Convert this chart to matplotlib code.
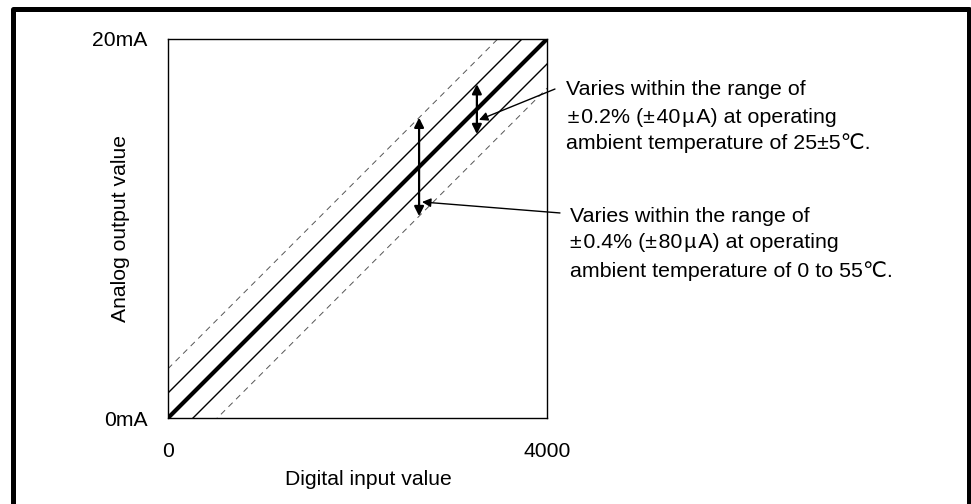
import numpy as np
import matplotlib.pyplot as plt
from matplotlib.lines import Line2D

plt.rcParams['font.family'] = ['Liberation Sans', 'DejaVu Sans']

# data
digital = [0, 4000]
analog = [0, 20]
solid_off = 1.32      # mA, +-0.2% band (drawn exaggerated)
dash_off = 2.6        # mA, +-0.4% band
arrow_x = [3260, 2650]
arrow_off = [solid_off, dash_off]
note_tip = [(3282, 15.73), (2681, 11.4)]
note_start = [(4084, 17.36), (4137, 10.82)]
hs = "\u200a"
notes = [
    ["Varies within the range of",
     hs + "\u00b1" + hs + "0.2% (\u00b1" + hs + "40" + hs + "\u00b5" + hs + "A) at operating",
     "ambient temperature of 25\u00b15\u2103."],
    ["Varies within the range of",
     "\u00b1" + hs + "0.4% (\u00b1" + hs + "80" + hs + "\u00b5" + hs + "A) at operating",
     "ambient temperature of 0 to 55\u2103."],
]
note_x = [4200, 4245]
note_y = [[17.36, 15.88, 14.51], [10.61, 9.24, 7.76]]

fig = plt.figure(figsize=(9.71, 5.04), dpi=100)
ax = fig.add_axes([168/971, 1-418/504, 379/971, 379/504])

x = np.array(digital, dtype=float)
slope = analog[1] / digital[1]
y = x * slope

ax.plot(x, y, color='black', lw=3.0, solid_capstyle='butt')
for s in (-1, 1):
    ax.plot(x, y + s*solid_off, color='black', lw=1.0)
    ax.plot(x, y + s*dash_off, color='#555555', lw=0.7, ls=(0, (6, 5)))

for xa, off in zip(arrow_x, arrow_off):
    yc = xa * slope
    ax.annotate('', xy=(xa, yc + off), xytext=(xa, yc - off),
                arrowprops=dict(arrowstyle='<|-|>', color='black', lw=1.6,
                                mutation_scale=14, shrinkA=0, shrinkB=0))

for tip, start in zip(note_tip, note_start):
    ax.annotate('', xy=tip, xytext=start, annotation_clip=False,
                arrowprops=dict(arrowstyle='-|>', color='black', lw=1.0,
                                mutation_scale=13, shrinkA=0, shrinkB=0))

for xs, ys, lines in zip(note_x, note_y, notes):
    for yy, txt in zip(ys, lines):
        ax.text(xs, yy, txt, fontsize=15.4, ha='left', va='center', clip_on=False)

ax.set_xlim(digital)
ax.set_ylim(analog)
ax.set_xticks(digital)
ax.set_xticklabels(['0', '4000'])
ax.set_yticks(analog)
ax.set_yticklabels(['0mA', '20mA'])
ax.tick_params(length=0, labelsize=15.2)
ax.tick_params(axis='y', pad=14.5)
ax.tick_params(axis='x', pad=17)
for sp in ax.spines.values():
    sp.set_linewidth(1.0)

ax.text(0.528, -0.163, 'Digital input value', transform=ax.transAxes,
        fontsize=15.2, ha='center', va='center')
ax.text(-0.126, 0.5, 'Analog output value', transform=ax.transAxes,
        fontsize=15.2, ha='center', va='center', rotation=90)

# outer frame (open at the bottom)
fx = [12.5/971, 12.5/971, 969/971, 969/971]
fy = [0, 1-9/504, 1-9/504, 0]
fig.add_artist(Line2D(fx, fy, color='black', lw=3.6, transform=fig.transFigure))

plt.savefig('out.png', dpi=100)
